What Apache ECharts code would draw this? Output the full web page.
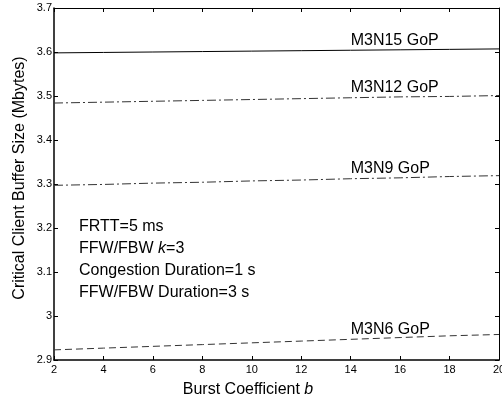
<!DOCTYPE html>
<html>
<head>
<meta charset="utf-8">
<script src="https://cdn.jsdelivr.net/npm/echarts@6/dist/echarts.min.js"></script>
<style>
  html, body { margin: 0; padding: 0; background: #fff; }
  #chart { width: 502px; height: 402px; }
</style>
</head>
<body>
<div id="chart"></div>
<script>
// burst coefficient b
const burst = [2, 4, 6, 8, 10, 12, 14, 16, 18, 20];

// critical client buffer size (Mbytes)
const m3n15 = [3.598, 3.599, 3.600, 3.601, 3.602, 3.603, 3.604, 3.605, 3.606, 3.607];
const m3n12 = [3.484, 3.486, 3.488, 3.490, 3.492, 3.494, 3.496, 3.498, 3.499, 3.501];
const m3n9 = [3.297, 3.299, 3.302, 3.304, 3.307, 3.309, 3.312, 3.314, 3.317, 3.319];
const m3n6 = [2.923, 2.927, 2.931, 2.935, 2.939, 2.943, 2.947, 2.951, 2.955, 2.958];

const seriesNames = ['M3N15 GoP', 'M3N12 GoP', 'M3N9 GoP', 'M3N6 GoP'];
const notes = ['FRTT=5 ms', 'FFW/FBW {i|k}=3', 'Congestion Duration=1 s', 'FFW/FBW Duration=3 s'];

const FONT = 'Arial, "Liberation Sans", Helvetica, sans-serif';

const chart = echarts.init(document.getElementById('chart'));

const pairs = ys => burst.map((b, i) => [b, ys[i]]);

const lineSeries = (name, ys, type, color) => ({
  name: name,
  type: 'line',
  data: pairs(ys),
  showSymbol: false,
  symbol: 'none',
  silent: true,
  lineStyle: { color: color, width: 1, type: type },
  markPoint: {
    symbol: 'circle',
    symbolSize: 0,
    silent: true,
    data: [{ coord: [14, ys[6]] }],
    label: {
      show: true,
      position: [0, -10],
      align: 'left',
      verticalAlign: 'middle',
      formatter: name,
      color: '#000',
      fontSize: 16,
      fontFamily: FONT,
    },
  },
});

const mirrorX = {
  type: 'value', position: 'top', min: 2, max: 20, interval: 2,
  axisLine: { show: true, lineStyle: { color: '#000', width: 1 } },
  axisTick: { show: true, inside: true, length: 4, lineStyle: { color: '#000' } },
  axisLabel: { show: false },
  splitLine: { show: false },
};
const mirrorY = {
  type: 'value', position: 'right', min: 2.9, max: 3.7, interval: 0.1,
  axisLine: { show: true, lineStyle: { color: '#000', width: 1 } },
  axisTick: { show: true, inside: true, length: 4, lineStyle: { color: '#000' } },
  axisLabel: { show: false },
  splitLine: { show: false },
};

const option = {
  animation: false,
  backgroundColor: '#fff',
  grid: { left: 54, right: 3, top: 8, bottom: 42, containLabel: false, outerBoundsMode: 'none' },
  xAxis: [
    {
      type: 'value',
      min: 2, max: 20, interval: 2,
      axisLine: { show: true, lineStyle: { color: '#000', width: 1.5 } },
      axisTick: { show: true, inside: true, length: 4, lineStyle: { color: '#000' } },
      axisLabel: { color: '#000', fontSize: 11, fontFamily: FONT, margin: 4 },
      splitLine: { show: false },
    },
    mirrorX,
  ],
  yAxis: [
    {
      type: 'value',
      min: 2.9, max: 3.7, interval: 0.1,
      axisLine: { show: true, lineStyle: { color: '#000', width: 1.5 } },
      axisTick: { show: true, inside: true, length: 4, lineStyle: { color: '#000' } },
      axisLabel: {
        color: '#000', fontSize: 11, fontFamily: FONT, margin: 2,
        formatter: v => String(parseFloat(v.toFixed(2))),
      },
      splitLine: { show: false },
    },
    mirrorY,
  ],
  graphic: [
    {
      type: 'text',
      x: 248, y: 390,
      style: {
        text: 'Burst Coefficient {i|b}',
        align: 'center', verticalAlign: 'middle',
        fontSize: 16, fontFamily: FONT, fill: '#000',
        rich: { i: { fontStyle: 'italic', fontSize: 16, fontFamily: FONT } },
      },
    },
    {
      type: 'text',
      x: 20, y: 178,
      rotation: Math.PI / 2,
      style: {
        text: 'Critical Client Buffer Size (Mbytes)',
        align: 'center', verticalAlign: 'middle',
        fontSize: 16, fontFamily: FONT, fill: '#000',
      },
    },
    {
      type: 'group',
      children: notes.map((t, i) => ({
        type: 'text',
        x: 79, y: 227 + i * 21.7,
        style: {
          text: t,
          align: 'left', verticalAlign: 'middle',
          fontSize: 16, fontFamily: FONT, fill: '#000',
          rich: { i: { fontStyle: 'italic', fontSize: 16, fontFamily: FONT } },
        },
      })),
    },
  ],
  series: [
    lineSeries(seriesNames[0], m3n15, 'solid', '#000'),
    lineSeries(seriesNames[1], m3n12, [9, 3, 2, 3], '#333'),
    lineSeries(seriesNames[2], m3n9, [9, 3, 2, 3], '#333'),
    lineSeries(seriesNames[3], m3n6, [7, 4], '#333'),
  ],
};

chart.setOption(option);
</script>
</body>
</html>
